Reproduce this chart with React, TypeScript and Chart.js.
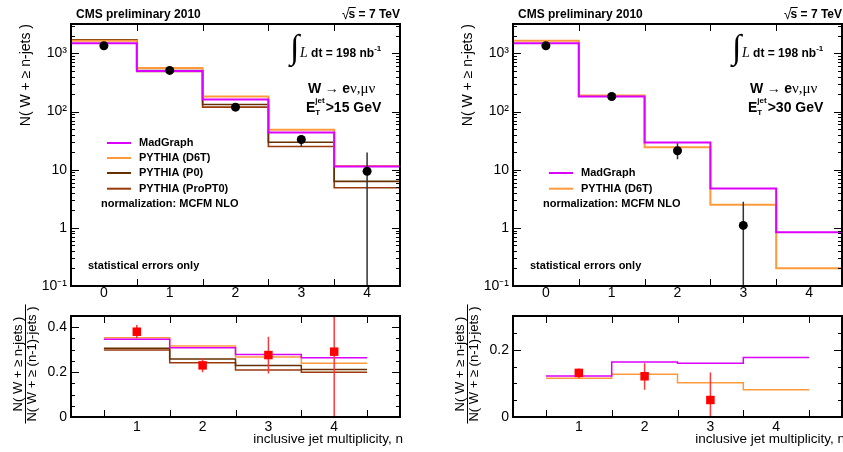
import React, { useEffect, useRef } from 'react';
import { Chart, registerables } from 'chart.js';

Chart.register(...registerables);

const W = 843;
const H = 452;
const FONT = '"Liberation Sans", Arial, Helvetica, sans-serif';
const SERIF = '"Liberation Serif", "DejaVu Serif", serif';

// ---------------- data ----------------
const jetBins = [0, 1, 2, 3, 4];
const ratioBins = [1, 2, 3, 4];
const topXTicks = [0, 1, 2, 3, 4];
const ratioXTicks = [1, 2, 3, 4];
const logTickValues = [0.1, 1, 10, 100, 1000];
const logTickLabels = ['10⁻¹', '1', '10', '10²', '10³'];
const ratioYTicks15 = [0, 0.2, 0.4];
const ratioYLabels15 = ['0', '0.2', '0.4'];
const ratioYTicks30 = [0, 0.2];
const ratioYLabels30 = ['0', '0.2'];

const legendLabels = ['MadGraph', 'PYTHIA (D6T)', 'PYTHIA (P0)', 'PYTHIA (ProPT0)'];

// E_T^jet > 15 GeV
const data15 = [1350, 509, 119, 33, 9.4];
const data15Lo = [1315, 487, 106, 24.7, 0];
const data15Hi = [1385, 532, 133, 38.6, 19.7];
const madgraph15 = [1500, 500, 161, 43.6, 11.4];
const d6t15 = [1650, 560, 181, 48.4, 11.6];
const p0_15 = [1690, 505, 132, 29.7, 6.3];
const propt0_15 = [1720, 490, 119, 25, 4.9];

// E_T^jet > 30 GeV
const data30Bins = [0, 1, 2, 3];
const data30 = [1350, 181, 21.2, 1.1];
const data30Lo = [1315, 168, 15.1, 0];
const data30Hi = [1385, 195, 28.5, 2.8];
const madgraph30 = [1500, 182, 29.2, 4.75, 0.84];
const d6t30 = [1650, 188, 24.3, 2.49, 0.202];

// ratios N(>=n)/N(>=n-1)
const ratioData15 = [0.38, 0.23, 0.276, 0.291];
const ratioData15Lo = [0.351, 0.199, 0.194, 0];
const ratioData15Hi = [0.41, 0.261, 0.358, 0.6];
const ratioMadgraph15 = [0.346, 0.309, 0.279, 0.264];
const ratioD6t15 = [0.353, 0.316, 0.267, 0.239];
const ratioP0_15 = [0.306, 0.258, 0.23, 0.212];
const ratioProPT0_15 = [0.298, 0.242, 0.209, 0.199];

const ratioData30Bins = [1, 2, 3];
const ratioData30 = [0.131, 0.121, 0.0505];
const ratioData30Lo = [0.115, 0.081, 0];
const ratioData30Hi = [0.144, 0.16, 0.132];
const ratioMadgraph30 = [0.122, 0.163, 0.16, 0.177];
const ratioD6t30 = [0.115, 0.127, 0.102, 0.081];

// ---------------- styles ----------------
const C_MG = '#dc00ff';
const C_D6T = '#ff9a3c';
const C_P0 = '#663000';
const C_PRO = '#9a3a0c';

type Area = { left: number; top: number; right: number; bottom: number };

const stepPoints = (centers: number[], vals: number[]) => {
  const pts = centers.map((c, i) => ({ x: c - 0.5, y: vals[i] }));
  pts.push({ x: centers[centers.length - 1] + 0.5, y: vals[vals.length - 1] });
  return pts;
};

function drawRich(ctx: CanvasRenderingContext2D, x: number, y: number, segs: { t: string; f: string; dy?: number }[]) {
  let cx = x;
  for (const s of segs) {
    ctx.font = s.f;
    ctx.fillText(s.t, cx, y + (s.dy || 0));
    cx += ctx.measureText(s.t).width;
  }
  return cx;
}

function drawTopAnnotations(ctx: CanvasRenderingContext2D, a: Area, cut: string, rows: { label: string; color: string }[], rowStart: number) {
  const L = a.left, R = a.right, T = a.top;
  ctx.save();
  ctx.fillStyle = '#000';
  ctx.strokeStyle = '#000';
  ctx.textAlign = 'left';
  ctx.textBaseline = 'alphabetic';
  const b12 = `bold 12px ${FONT}`;
  const b14 = `bold 14px ${FONT}`;
  const b11 = `bold 11px ${FONT}`;
  ctx.font = b12;
  ctx.fillText('CMS preliminary 2010', L + 5, T - 6);
  // sqrt(s) = 7 TeV
  const rest = 's = 7 TeV';
  const wRest = ctx.measureText(rest).width;
  const wS = ctx.measureText('s').width;
  const x0 = R - wRest;
  ctx.fillText(rest, x0, T - 6);
  ctx.font = `14px ${FONT}`;
  const wRad = ctx.measureText('√').width;
  ctx.fillText('√', x0 - wRad + 1, T - 5);
  ctx.lineWidth = 1;
  ctx.beginPath();
  ctx.moveTo(x0, T - 16.5);
  ctx.lineTo(x0 + wS + 0.5, T - 16.5);
  ctx.stroke();

  // integrated luminosity
  ctx.font = `34px ${SERIF}`;
  ctx.fillText('∫', R - 110, T + 34);
  drawRich(ctx, R - 100, T + 33, [
    { t: 'L', f: `italic 14px ${SERIF}` },
    { t: ' dt = 198 nb', f: b12 },
    { t: '-1', f: `bold 8px ${FONT}`, dy: -6 },
  ]);

  // W -> e nu, mu nu
  drawRich(ctx, R - 92, T + 69, [
    { t: 'W', f: b14 },
    { t: ' → ', f: `14px ${SERIF}` },
    { t: 'e', f: b14 },
    { t: 'ν,μν', f: `15px ${SERIF}` },
  ]);

  // E_T^jet > X GeV
  const ex = R - 94;
  ctx.font = b14;
  ctx.fillText('E', ex, T + 88);
  const wE = ctx.measureText('E').width;
  ctx.font = `bold 8px ${FONT}`;
  ctx.fillText('T', ex + wE, T + 91);
  ctx.fillText('jet', ex + wE, T + 79);
  const wj = ctx.measureText('jet').width;
  ctx.font = b14;
  ctx.fillText(cut, ex + wE + wj + 1, T + 88);

  // legend
  const rowY = [119, 134, 149, 164.7];
  ctx.textBaseline = 'middle';
  rows.forEach((r, i) => {
    const y = T + rowY[rowStart + i];
    ctx.strokeStyle = r.color;
    ctx.lineWidth = 2;
    ctx.beginPath();
    ctx.moveTo(L + 36, y);
    ctx.lineTo(L + 60, y);
    ctx.stroke();
    ctx.font = b11;
    ctx.fillText(r.label, L + 68, y);
  });
  ctx.font = b11;
  ctx.fillText('normalization: MCFM NLO', L + 30, T + 180);
  ctx.fillText('statistical errors only', L + 17, T + 242);

  // y title
  ctx.translate(L - 45, T);
  ctx.rotate(-Math.PI / 2);
  ctx.font = `14px ${FONT}`;
  ctx.textAlign = 'right';
  ctx.fillText('N( W + ≥ n-jets )', 0, 0);
  ctx.restore();
}

function drawRatioAnnotations(ctx: CanvasRenderingContext2D, a: Area) {
  const L = a.left, R = a.right;
  ctx.save();
  ctx.fillStyle = '#000';
  ctx.strokeStyle = '#000';
  const f = `13px ${FONT}`;
  ctx.font = f;
  const top = 'N( W + ≥ n-jets )';
  const bot = 'N( W + ≥ (n-1)-jets )';
  const len = Math.max(ctx.measureText(top).width, ctx.measureText(bot).width) + 4;
  const cy = 364;
  ctx.textAlign = 'center';
  ctx.textBaseline = 'middle';
  for (const [t, dx] of [[top, 53], [bot, 39]] as [string, number][]) {
    ctx.save();
    ctx.translate(L - dx, cy);
    ctx.rotate(-Math.PI / 2);
    ctx.fillText(t, 0, 0);
    ctx.restore();
  }
  ctx.lineWidth = 1;
  ctx.beginPath();
  ctx.moveTo(L - 45.5, cy - len / 2);
  ctx.lineTo(L - 45.5, cy + len / 2);
  ctx.stroke();
  ctx.font = `13.5px ${FONT}`;
  ctx.textAlign = 'right';
  ctx.textBaseline = 'alphabetic';
  ctx.fillText('inclusive jet multiplicity, n', R + 3, 443);
  ctx.restore();
}

interface PanelSpec {
  area: Area;
  xMin: number;
  xMax: number;
  xTicks: number[];
  xPad: number;
  yType: 'logarithmic' | 'linear';
  yMin: number;
  yMax: number;
  yTicks: number[];
  yLabels: string[];
  yMinor: number[];
  xMarks: number[];
  stepCenters: number[];
  series: { values: number[]; color: string; width: number }[];
  points: { x: number[]; y: number[]; lo: number[]; hi: number[]; color: string; barColor: string; style: string; radius: number };
  annotate: (ctx: CanvasRenderingContext2D, a: Area) => void;
}

const logMinor = (() => {
  const out: number[] = [];
  for (const d of logTickValues) for (let k = 2; k <= 9; k++) if (d * k < 3200) out.push(d * k);
  return out;
})();
const linMinor = (max: number) => {
  const out: number[] = [];
  for (let i = 1; i * 0.05 < max - 1e-9; i++) if (i % 4 !== 0) out.push(i * 0.05);
  return out;
};

const panels: PanelSpec[] = [
  {
    area: { left: 71, top: 24, right: 400, bottom: 286 },
    xMin: -0.5, xMax: 4.5, xTicks: topXTicks, xPad: 0,
    yType: 'logarithmic', yMin: 0.1, yMax: 3200, yTicks: logTickValues, yLabels: logTickLabels, yMinor: logMinor,
    xMarks: [0.5, 1.5, 2.5, 3.5],
    stepCenters: jetBins,
    series: [
      { values: madgraph15, color: C_MG, width: 2 },
      { values: d6t15, color: C_D6T, width: 2 },
      { values: p0_15, color: C_P0, width: 1.6 },
      { values: propt0_15, color: C_PRO, width: 1.6 },
    ],
    points: { x: jetBins, y: data15, lo: data15Lo, hi: data15Hi, color: '#000', barColor: '#333', style: 'circle', radius: 4.5 },
    annotate: (ctx, a) => drawTopAnnotations(ctx, a, '>15 GeV',
      [C_MG, C_D6T, C_P0, C_PRO].map((c, i) => ({ label: legendLabels[i], color: c })), 0),
  },
  {
    area: { left: 513, top: 24, right: 842, bottom: 286 },
    xMin: -0.5, xMax: 4.5, xTicks: topXTicks, xPad: 0,
    yType: 'logarithmic', yMin: 0.1, yMax: 3200, yTicks: logTickValues, yLabels: logTickLabels, yMinor: logMinor,
    xMarks: [0.5, 1.5, 2.5, 3.5],
    stepCenters: jetBins,
    series: [
      { values: madgraph30, color: C_MG, width: 2 },
      { values: d6t30, color: C_D6T, width: 2 },
    ],
    points: { x: data30Bins, y: data30, lo: data30Lo, hi: data30Hi, color: '#000', barColor: '#333', style: 'circle', radius: 4.5 },
    annotate: (ctx, a) => drawTopAnnotations(ctx, a, '>30 GeV',
      [C_MG, C_D6T].map((c, i) => ({ label: legendLabels[i], color: c })), 2),
  },
  {
    area: { left: 71, top: 316, right: 400, bottom: 417 },
    xMin: 0, xMax: 5, xTicks: ratioXTicks, xPad: 3,
    yType: 'linear', yMin: 0, yMax: 0.45, yTicks: ratioYTicks15, yLabels: ratioYLabels15, yMinor: linMinor(0.45),
    xMarks: [0.5, 1.5, 2.5, 3.5, 4.5],
    stepCenters: ratioBins,
    series: [
      { values: ratioMadgraph15, color: C_MG, width: 1.5 },
      { values: ratioD6t15, color: C_D6T, width: 1.5 },
      { values: ratioP0_15, color: C_P0, width: 1.5 },
      { values: ratioProPT0_15, color: C_PRO, width: 1.5 },
    ],
    points: { x: ratioBins, y: ratioData15, lo: ratioData15Lo, hi: ratioData15Hi, color: '#ff0000', barColor: '#ff3a3a', style: 'rect', radius: 6 },
    annotate: drawRatioAnnotations,
  },
  {
    area: { left: 513, top: 316, right: 842, bottom: 417 },
    xMin: 0, xMax: 5, xTicks: ratioXTicks, xPad: 3,
    yType: 'linear', yMin: 0, yMax: 0.3, yTicks: ratioYTicks30, yLabels: ratioYLabels30, yMinor: linMinor(0.3),
    xMarks: [0.5, 1.5, 2.5, 3.5, 4.5],
    stepCenters: ratioBins,
    series: [
      { values: ratioMadgraph30, color: C_MG, width: 1.5 },
      { values: ratioD6t30, color: C_D6T, width: 1.5 },
    ],
    points: { x: ratioData30Bins, y: ratioData30, lo: ratioData30Lo, hi: ratioData30Hi, color: '#ff0000', barColor: '#ff3a3a', style: 'rect', radius: 6 },
    annotate: drawRatioAnnotations,
  },
];

function makeChart(canvas: HTMLCanvasElement, spec: PanelSpec) {
  const a = spec.area;
  const xAxisH = 30;
  const yAxisW = 71;
  const datasets: any[] = [];
  datasets.push({
    type: 'scatter',
    data: spec.points.x.map((x, i) => ({ x, y: spec.points.y[i] })),
    pointStyle: spec.points.style,
    pointRadius: spec.points.radius,
    backgroundColor: spec.points.color,
    borderColor: spec.points.color,
    borderWidth: 0,
    showLine: false,
  });
  spec.series.forEach((s) => {
    datasets.push({
      type: 'line',
      data: stepPoints(spec.stepCenters, s.values),
      borderColor: s.color,
      borderWidth: s.width,
      pointRadius: 0,
      stepped: 'before',
      fill: false,
      tension: 0,
    });
  });

  const plugin = {
    id: 'rootStyle',
    beforeDatasetDraw(chart: any, args: any) {
      if (args.index !== 0) return;
      const { ctx, chartArea: ca, scales } = chart;
      const p = spec.points;
      ctx.save();
      ctx.strokeStyle = p.barColor;
      ctx.lineWidth = 1.5;
      ctx.beginPath();
      p.x.forEach((xv, i) => {
        const px = scales.x.getPixelForValue(xv);
        const yHi = Math.max(ca.top, scales.y.getPixelForValue(p.hi[i]));
        const yLo = p.lo[i] > 0 ? Math.min(ca.bottom, scales.y.getPixelForValue(p.lo[i])) : ca.bottom;
        ctx.moveTo(px, yHi);
        ctx.lineTo(px, yLo);
      });
      ctx.stroke();
      ctx.restore();
    },
    afterDatasetsDraw(chart: any) {
      const { ctx, chartArea: ca, scales } = chart;
      ctx.save();
      ctx.strokeStyle = '#000';
      ctx.lineWidth = 1;
      ctx.beginPath();
      const xl = 7;
      for (const v of spec.xMarks) {
        const px = Math.round(scales.x.getPixelForValue(v)) + 0.5;
        ctx.moveTo(px, ca.bottom);
        ctx.lineTo(px, ca.bottom - xl);
        ctx.moveTo(px, ca.top);
        ctx.lineTo(px, ca.top + xl);
      }
      const yTick = (v: number, len: number) => {
        const py = Math.round(scales.y.getPixelForValue(v)) + 0.5;
        ctx.moveTo(ca.left, py);
        ctx.lineTo(ca.left + len, py);
        ctx.moveTo(ca.right, py);
        ctx.lineTo(ca.right - len, py);
      };
      spec.yTicks.forEach((v) => yTick(v, 8));
      spec.yMinor.forEach((v) => yTick(v, 4));
      ctx.stroke();
      ctx.lineWidth = 2;
      ctx.strokeRect(ca.left, ca.top, ca.right - ca.left, ca.bottom - ca.top);
      ctx.restore();
    },
    afterDraw(chart: any) {
      spec.annotate(chart.ctx, chart.chartArea);
    },
  };

  return new Chart(canvas, {
    type: 'line',
    data: { datasets },
    options: {
      responsive: false,
      animation: false,
      events: [],
      layout: {
        autoPadding: false,
        padding: { left: a.left - yAxisW, top: a.top, right: W - a.right, bottom: H - a.bottom - xAxisH },
      },
      plugins: { legend: { display: false }, tooltip: { enabled: false }, title: { display: false } },
      scales: {
        x: {
          type: 'linear',
          min: spec.xMin,
          max: spec.xMax,
          grid: { display: false, drawTicks: false },
          border: { display: false },
          afterBuildTicks: (s: any) => { s.ticks = spec.xTicks.map((v) => ({ value: v })); },
          afterFit: (s: any) => { s.height = xAxisH; },
          ticks: {
            autoSkip: false, maxRotation: 0, padding: spec.xPad, color: '#000',
            font: { family: FONT, size: 14, lineHeight: 1 },
            callback: (v: any) => String(v),
          },
        },
        y: {
          type: spec.yType,
          min: spec.yMin,
          max: spec.yMax,
          grid: { display: false, drawTicks: false },
          border: { display: false },
          afterBuildTicks: (s: any) => { s.ticks = spec.yTicks.map((v) => ({ value: v })); },
          afterFit: (s: any) => { s.width = yAxisW; },
          ticks: {
            autoSkip: false, padding: 4, color: '#000',
            font: { family: FONT, size: 14, lineHeight: 1 },
            callback: (_v: any, i: number) => spec.yLabels[i],
          },
        },
      },
    } as any,
    plugins: [plugin],
  });
}

export default function App() {
  const refs = useRef<(HTMLCanvasElement | null)[]>([]);
  useEffect(() => {
    const charts = panels.map((p, i) => makeChart(refs.current[i] as HTMLCanvasElement, p));
    return () => charts.forEach((c) => c.destroy());
  }, []);
  return (
    <div style={{ position: 'absolute', left: 0, top: 0, width: W, height: H, background: '#fff', overflow: 'hidden' }}>
      {panels.map((_, i) => (
        <canvas
          key={i}
          ref={(el) => { refs.current[i] = el; }}
          width={W}
          height={H}
          style={{ position: 'absolute', left: 0, top: 0 }}
        />
      ))}
    </div>
  );
}
